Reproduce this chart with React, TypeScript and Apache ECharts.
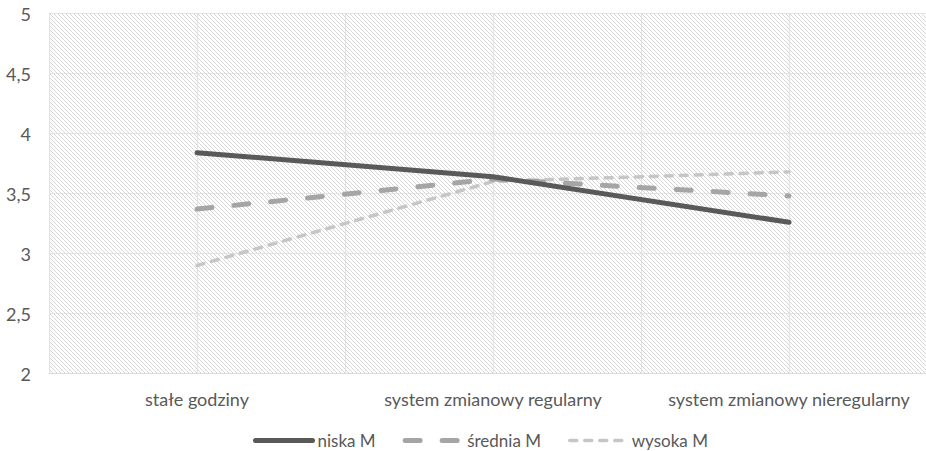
import React, { useEffect, useRef } from "react";
import * as echarts from "echarts";

const categories = ["stałe godziny", "system zmianowy regularny", "system zmianowy nieregularny"];
const seriesNames = ["niska M", "średnia M", "wysoka M"];
const niskaM = [3.84, 3.64, 3.26];
const sredniaM = [3.37, 3.62, 3.48];
const wysokaM = [2.9, 3.6, 3.68];
const yMin = 2;
const yMax = 5;
const yStep = 0.5;
// half-category slots used only for the vertical grid lines
const gridSlots = ["", "", "", "", "", ""];

const FONT = "Lato, 'Open Sans', sans-serif";
const TEXT = "#595959";
const FS = 18;

const styles = [
  { color: "#595959", width: 5, type: "solid" as any },
  { color: "#a5a5a5", width: 5, type: [15, 22] as any },
  { color: "#c6c6c6", width: 3.5, type: [7, 8] as any },
];

// 4x4 tile with a crisp one-pixel "\" diagonal
function hatchTile(): HTMLCanvasElement {
  const c = document.createElement("canvas");
  c.width = 4;
  c.height = 4;
  const ctx = c.getContext("2d")!;
  ctx.fillStyle = "#ffffff";
  ctx.fillRect(0, 0, 4, 4);
  ctx.fillStyle = "#d6d6d6";
  for (let i = 0; i < 4; i++) ctx.fillRect(i, i, 1, 1);
  return c;
}

export default function App() {
  const ref = useRef<HTMLDivElement>(null);

  useEffect(() => {
    if (!ref.current) return;
    const chart = echarts.init(ref.current, undefined, { renderer: "svg" });
    const tile = hatchTile();

    chart.setOption({
      animation: false,
      backgroundColor: "#ffffff",
      textStyle: { fontFamily: FONT },
      grid: {
        left: 49,
        right: 0,
        top: 13.5,
        bottom: 77.5,
        show: true,
        borderWidth: 0,
        backgroundColor: { image: tile, repeat: "repeat", imageWidth: 4, imageHeight: 4 } as any,
      },
      legend: {
        top: 432,
        left: 253,
        itemWidth: 57,
        itemHeight: 14,
        itemGap: 27,
        padding: 0,
        itemStyle: { opacity: 0 },
        textStyle: { color: TEXT, fontSize: 17, fontFamily: FONT },
        data: seriesNames.map((name, i) => ({
          name,
          itemStyle: { opacity: 0 },
          lineStyle: { color: styles[i].color, width: styles[i].width, type: styles[i].type, cap: "round" },
        })),
      },
      xAxis: [
        {
          type: "category",
          data: categories,
          boundaryGap: true,
          axisLine: { show: true, lineStyle: { color: "#d9d9d9", width: 1 } },
          axisTick: { show: false },
          axisLabel: { color: TEXT, fontSize: FS, margin: 16, interval: 0, fontFamily: FONT },
          splitLine: { show: false },
        },
        {
          type: "category",
          data: gridSlots,
          position: "bottom",
          boundaryGap: true,
          axisLine: { show: false },
          axisTick: { show: false },
          axisLabel: { show: false },
          splitLine: { show: true, interval: 0, lineStyle: { color: "#e2e2e2", width: 1 } },
        },
      ],
      yAxis: {
        type: "value",
        min: yMin,
        max: yMax,
        interval: yStep,
        axisLine: { show: false },
        axisTick: { show: false },
        axisLabel: {
          color: TEXT,
          fontSize: FS,
          margin: 18,
          fontFamily: FONT,
          formatter: (v: number) => String(v).replace(".", ","),
        },
        splitLine: { show: true, lineStyle: { color: "#e2e2e2", width: 1 } },
      },
      series: [niskaM, sredniaM, wysokaM].map((data, i) => ({
        name: seriesNames[i],
        type: "line",
        data,
        symbol: "none",
        itemStyle: { color: styles[i].color },
        lineStyle: { ...styles[i], cap: "round", join: "round" },
        z: 5 - i,
      })),
    });

    return () => chart.dispose();
  }, []);

  // the plot area runs slightly past the window's right edge
  return (
    <div
      ref={ref}
      style={{ position: "fixed", left: 0, top: 0, width: 937, height: 451 }}
    />
  );
}
